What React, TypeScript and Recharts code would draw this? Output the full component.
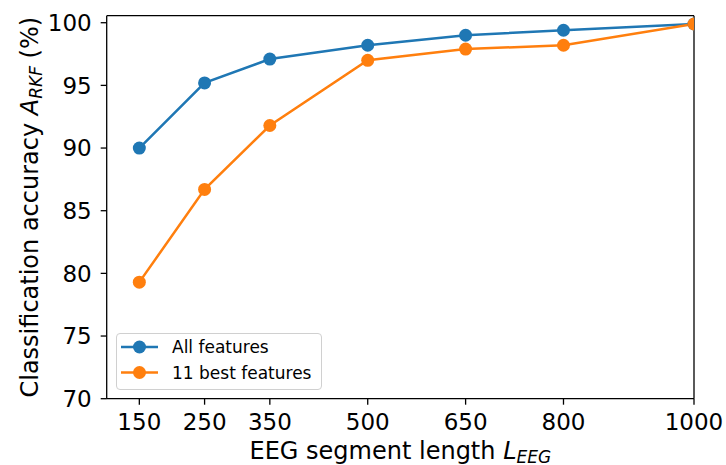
import React from "react";
import { LineChart, Line, XAxis, YAxis, Legend } from "recharts";

const segmentLengths = [150, 250, 350, 500, 650, 800, 1000];
const allFeatures = [90.0, 95.2, 97.1, 98.2, 99.0, 99.4, 99.9];
const bestFeatures = [79.3, 86.7, 91.8, 97.0, 97.9, 98.2, 99.9];
const yTicks = [70, 75, 80, 85, 90, 95, 100];
const seriesNames = ["All features", "11 best features"];
const seriesColors = ["#1f77b4", "#ff7f0e"];

const data = segmentLengths.map((len, i) => ({
  len,
  all: allFeatures[i],
  best: bestFeatures[i],
}));

const FONT = "DejaVu Sans, sans-serif";
const axisStyle = { stroke: "#000", strokeWidth: 1.3 };

function XLabel(props: any) {
  const vb = props.viewBox || { x: 106.7, y: 398.7, width: 587.3 };
  const cx = vb.x + vb.width / 2;
  return (
    <text x={cx} y={vb.y + 60.5} textAnchor="middle" fontFamily={FONT} fontSize={24} fill="#000">
      EEG segment length{" "}
      <tspan fontStyle="italic">L</tspan>
      <tspan fontStyle="italic" fontSize={17} dy={3.3}>EEG</tspan>
    </text>
  );
}

function YLabel() {
  const x = 38.3;
  const y = 207.2;
  return (
    <text x={x} y={y} transform={`rotate(-90, ${x}, ${y})`} textAnchor="middle" fontFamily={FONT} fontSize={24} fill="#000">
      Classification accuracy{" "}
      <tspan fontStyle="italic">A</tspan>
      <tspan fontStyle="italic" fontSize={17} dy={3.3}>RKF</tspan>
      <tspan dy={-3.3}> (%)</tspan>
    </text>
  );
}

function LegendBox() {
  return (
    <div
      style={{
        width: 206,
        height: 57,
        boxSizing: "border-box",
        border: "1px solid #d0d0d0",
        borderRadius: 4,
        background: "rgba(255,255,255,0.8)",
      }}
    >
      <svg width={204} height={55} style={{ display: "block" }}>
        {seriesNames.map((name, i) => {
          const cy = 13 + i * 25.5;
          return (
            <g key={name}>
              <line x1={4} x2={41} y1={cy} y2={cy} stroke={seriesColors[i]} strokeWidth={2.5} />
              <circle cx={22.5} cy={cy} r={6.5} fill={seriesColors[i]} />
              <text x={55} y={cy + 6} fontFamily={FONT} fontSize={17} fill="#000">
                {name}
              </text>
            </g>
          );
        })}
      </svg>
    </div>
  );
}

export default function App() {
  return (
    <div style={{ position: "absolute", left: 0, top: 0, width: 726, height: 465 }}>
      <LineChart width={726} height={465} data={data} margin={{ top: 14.7, right: 31, left: 0, bottom: 0 }}>
        <XAxis
          dataKey="len"
          type="number"
          domain={[100, 1000]}
          ticks={segmentLengths}
          allowDataOverflow
          height={66.3}
          axisLine={axisStyle}
          tickLine={axisStyle}
          tickSize={6}
          tickMargin={9}
          tick={{ fontFamily: FONT, fontSize: 23, fill: "#000" }}
          label={<XLabel />}
        />
        <XAxis
          xAxisId="top"
          orientation="top"
          type="number"
          domain={[100, 1000]}
          height={1}
          tick={false}
          tickLine={false}
          axisLine={axisStyle}
        />
        <YAxis
          type="number"
          domain={[70, 100.56]}
          ticks={yTicks}
          allowDataOverflow
          width={106.7}
          axisLine={axisStyle}
          tickLine={axisStyle}
          tickSize={6}
          tickMargin={9}
          tick={{ fontFamily: FONT, fontSize: 23, fill: "#000" }}
          label={<YLabel />}
        />
        <YAxis
          yAxisId="right"
          orientation="right"
          type="number"
          domain={[70, 100.56]}
          width={1}
          tick={false}
          tickLine={false}
          axisLine={axisStyle}
        />
        <Legend
          layout="vertical"
          align="center"
          verticalAlign="middle"
          wrapperStyle={{ position: "absolute", left: 116, top: 333, width: 206, height: 57 }}
          content={() => <LegendBox />}
        />
        <Line
          dataKey="all"
          name={seriesNames[0]}
          stroke={seriesColors[0]}
          strokeWidth={2.5}
          dot={{ r: 6.5, fill: seriesColors[0], stroke: seriesColors[0], strokeWidth: 0 }}
          isAnimationActive={false}
        />
        <Line
          dataKey="best"
          name={seriesNames[1]}
          stroke={seriesColors[1]}
          strokeWidth={2.5}
          dot={{ r: 6.5, fill: seriesColors[1], stroke: seriesColors[1], strokeWidth: 0 }}
          isAnimationActive={false}
        />
      </LineChart>
    </div>
  );
}
